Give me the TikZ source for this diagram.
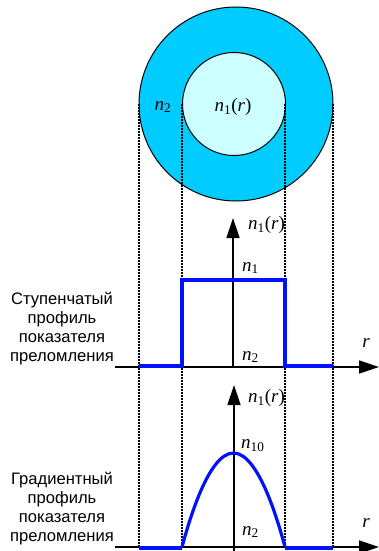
\documentclass[tikz,border=0pt]{standalone}
\usepackage{fontspec}
\setmainfont{Liberation Serif}
\setsansfont{Liberation Sans}
\usetikzlibrary{arrows.meta}
\definecolor{clad}{HTML}{00CCFF}
\definecolor{core}{HTML}{CCFFFF}
\definecolor{prof}{HTML}{0011FF}
\newcommand{\nidx}[2]{\textit{n}\textsubscript{#1}#2}
\begin{document}
\begin{tikzpicture}[x=1pt,y=-1pt,
  axis/.style={line width=1.4pt,-{Triangle[length=20pt,width=13pt]}},
  guide/.style={line width=1.2pt,dash pattern=on 2pt off 1pt},
  profile/.style={prof,line width=3.2pt},
  lab/.style={font=\fontsize{19}{22}\selectfont, inner sep=0pt},
  desc/.style={font=\sffamily\fontsize{16.6}{19}\selectfont, align=center, inner sep=0pt}]
\useasboundingbox (0,0) rectangle (379,551);
\fill[white] (0,0) rectangle (379,551);
% fibre cross-section
\draw[fill=clad, line width=1pt] (236,104) circle[radius=97pt];
\draw[fill=core, line width=1pt] (234,104) circle[radius=51.5pt];
\node[lab] (cn2) at (163,107) {\nidx{2}{}};
\node[lab] (cn1) at (233,107) {\nidx{1}{(\textit{r})}};
% guide lines
\foreach \i/\x in {1/139,2/182,3/285,4/333}{
  \coordinate (gt\i) at (\x,104);
  \coordinate (gb\i) at (\x,547);
  \draw[guide] (gt\i) -- (gb\i);
}
% step profile
\coordinate (s0) at (115,367);
\coordinate (s1) at (379,367);
\coordinate (sv0) at (233,367);
\coordinate (sv1) at (233,218);
\draw[axis] (s0) -- (s1);
\draw[axis] (sv0) -- (sv1);
\coordinate (p1) at (139,366);
\coordinate (p2) at (182,366);
\coordinate (p3) at (182,280);
\coordinate (p4) at (285,280);
\coordinate (p5) at (285,366);
\coordinate (p6) at (333,366);
\draw[profile] (p1) -- (p2) -- (p3) -- (p4) -- (p5) -- (p6);
\node[lab,anchor=west] (sn1r) at (248,225) {\nidx{1}{(\textit{r})}};
\node[lab,anchor=west] (sn1) at (242,268) {\nidx{1}{}};
\node[lab,anchor=west] (sn2) at (242,357) {\nidx{2}{}};
\node[lab] (sr) at (366,343) {\textit{r}};
\node[desc] (sdesc) at (62,329) {Ступенчатый\\профиль\\показателя\\преломления};
% gradient profile
\coordinate (g0) at (115,547);
\coordinate (g1) at (379,547);
\coordinate (gv0) at (234,551);
\coordinate (gv1) at (234,385);
\draw[axis] (g0) -- (g1);
\draw[axis] (gv0) -- (gv1);
\coordinate (q1) at (139,548);
\coordinate (q2) at (182,548);
\coordinate (qa) at (182,547);
\coordinate (qt) at (233.5,453);
\coordinate (qb) at (285,547);
\coordinate (q3) at (285,548);
\coordinate (q4) at (333,548);
\draw[profile] (q1) -- (q2);
\draw[profile] (q3) -- (q4);
\draw[profile] (qa) parabola bend (qt) (qb);
\node[lab,anchor=west] (gn1r) at (248,398) {\nidx{1}{(\textit{r})}};
\node[lab,anchor=west] (gn10) at (241,446) {\nidx{10}{}};
\node[lab,anchor=west] (gn2) at (242,532) {\nidx{2}{}};
\node[lab] (gr) at (366,523) {\textit{r}};
\node[desc] (gdesc) at (62,508.5) {Градиентный\\профиль\\показателя\\преломления};
\end{tikzpicture}
\end{document}
